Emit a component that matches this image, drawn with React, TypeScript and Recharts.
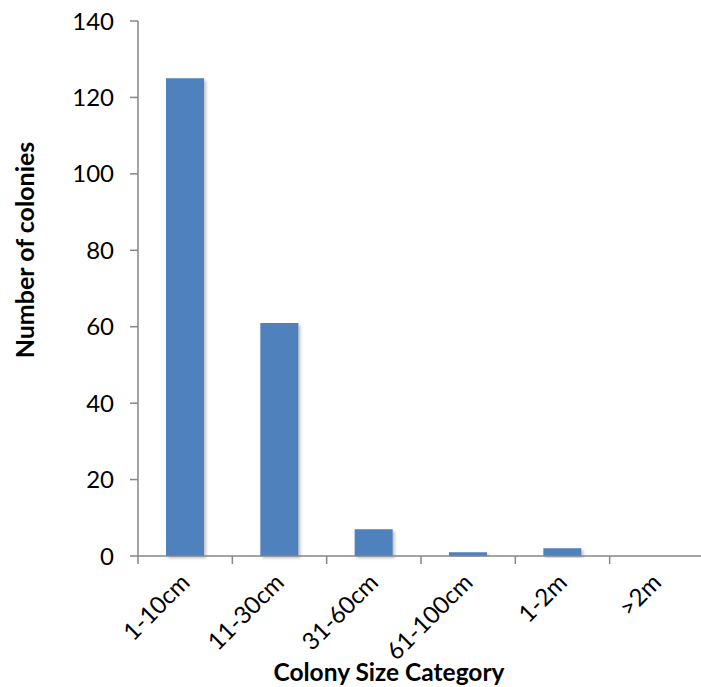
import React from 'react'
import { BarChart, Bar, XAxis, YAxis, Label } from 'recharts'

// colony counts per size class
const categories = ['1-10cm', '11-30cm', '31-60cm', '61-100cm', '1-2m', '>2m']
const colonies = [125, 61, 7, 1, 2, 0]
const yTicks = [0, 20, 40, 60, 80, 100, 120, 140]
const bandTicks = [0, 1, 2, 3, 4, 5, 6]

const data = categories.map((name, i) => ({ name, colonies: colonies[i], pos: i + 0.5 }))

const FONT = 'Lato, "Open Sans", sans-serif'
const AXIS = '#868686'

const CategoryTick = ({ x, y, payload }: any) => (
    <g transform={`translate(${x + 6},${y + 27})`}>
        <text x={0} y={0} textAnchor="end" fill="#000" fontSize={24} fontFamily={FONT} transform="rotate(-45)">
            {payload.value}
        </text>
    </g>
)

// only the tick marks are wanted on the boundary axis
const NoLabel = () => <g />

export default function App() {
    return (
        <div style={{ position: 'absolute', left: 0, top: 0, width: 701, height: 687, overflow: 'hidden', background: '#fff' }}>
            <svg width={0} height={0} style={{ position: 'absolute' }}>
                <defs>
                    <filter id="barShadow" x="-20%" y="-20%" width="140%" height="140%">
                        <feDropShadow dx={2} dy={2} stdDeviation={1.5} floodColor="#000" floodOpacity={0.25} />
                    </filter>
                </defs>
            </svg>
            <BarChart width={710} height={687} data={data} margin={{ top: 21, right: 6, bottom: 0, left: 0 }}>
                {/* boundary ticks between categories, like Excel */}
                <XAxis
                    xAxisId="band"
                    dataKey="pos"
                    type="number"
                    domain={[0, 6]}
                    ticks={bandTicks}
                    interval={0}
                    height={1}
                    axisLine={{ stroke: AXIS, strokeWidth: 1.5 }}
                    tick={<NoLabel />}
                    tickSize={8}
                    tickLine={{ stroke: AXIS, strokeWidth: 1.5 }}
                />
                <XAxis
                    xAxisId="cat"
                    dataKey="name"
                    height={130}
                    tickLine={false}
                    axisLine={false}
                    tickSize={0}
                    tickMargin={0}
                    interval={0}
                    tick={<CategoryTick />}
                >
                    <Label
                        content={({ viewBox }: any) => (
                            <text
                                x={389}
                                y={viewBox.y + 124}
                                textAnchor="middle"
                                fontFamily={FONT}
                                fontWeight="bold"
                                fontSize={24.5}
                                fill="#000"
                            >
                                Colony Size Category
                            </text>
                        )}
                    />
                </XAxis>
                <YAxis
                    width={138}
                    domain={[0, 140]}
                    ticks={yTicks}
                    interval={0}
                    axisLine={{ stroke: AXIS, strokeWidth: 1.5 }}
                    tickLine={{ stroke: AXIS, strokeWidth: 1.5 }}
                    tickSize={8}
                    tickMargin={16}
                    tick={{ fill: '#000', fontSize: 24, fontFamily: FONT }}
                >
                    <Label
                        content={() => (
                            <text
                                x={24}
                                y={250}
                                transform="rotate(-90, 24, 250)"
                                textAnchor="middle"
                                dominantBaseline="central"
                                fontFamily={FONT}
                                fontWeight="bold"
                                fontSize={25}
                                fill="#000"
                            >
                                Number of colonies
                            </text>
                        )}
                    />
                </YAxis>
                <Bar
                    xAxisId="cat"
                    dataKey="colonies"
                    fill="#4F81BD"
                    barSize={38}
                    filter="url(#barShadow)"
                    isAnimationActive={false}
                />
            </BarChart>
        </div>
    )
}
